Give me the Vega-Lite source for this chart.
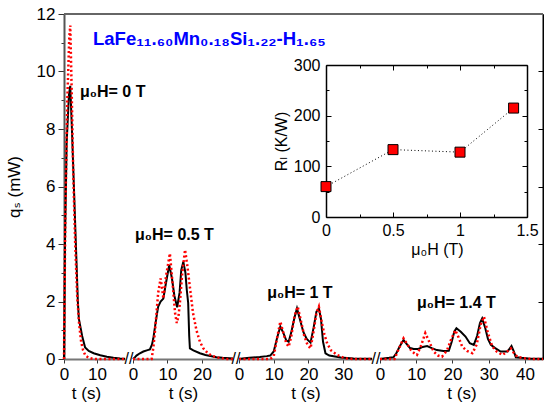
{
  "$schema": "https://vega.github.io/schema/vega-lite/v6.json",
  "width": 479,
  "height": 345,
  "autosize": {"type": "none"},
  "padding": {"left": 64, "top": 14, "right": 1, "bottom": 49},
  "config": {
    "view": {"stroke": null},
    "font": "Liberation Sans, DejaVu Sans",
    "axis": {"grid": false, "labelFont": "Liberation Sans, DejaVu Sans", "titleFont": "Liberation Sans, DejaVu Sans", "labelFontSize": 17, "titleFontSize": 17, "titleFontWeight": "normal", "labelColor": "#000", "titleColor": "#000", "labelFlush": false, "tickColor": "#333"}
  },
  "datasets": {
    "main": [
      {"panel":1,"series":"measured","t":0,"q":0},{"panel":1,"series":"measured","t":0.3,"q":4},{"panel":1,"series":"measured","t":0.8,"q":7.5},{"panel":1,"series":"measured","t":1.5,"q":9.2},{"panel":1,"series":"measured","t":1.9,"q":9.5},{"panel":1,"series":"measured","t":2.4,"q":8},{"panel":1,"series":"measured","t":3.0,"q":6},{"panel":1,"series":"measured","t":3.6,"q":4},{"panel":1,"series":"measured","t":4.2,"q":2},{"panel":1,"series":"measured","t":4.5,"q":1.4},{"panel":1,"series":"measured","t":5.5,"q":0.8},{"panel":1,"series":"measured","t":6.4,"q":0.4},{"panel":1,"series":"measured","t":7.5,"q":0.28},{"panel":1,"series":"measured","t":9,"q":0.2},{"panel":1,"series":"measured","t":11,"q":0.13},{"panel":1,"series":"measured","t":13,"q":0.08},{"panel":1,"series":"measured","t":15,"q":0.04},{"panel":1,"series":"measured","t":17,"q":0.02},{"panel":1,"series":"measured","t":18.5,"q":0.01},
      {"panel":1,"series":"model","t":0,"q":0},{"panel":1,"series":"model","t":0.4,"q":5},{"panel":1,"series":"model","t":1.0,"q":9},{"panel":1,"series":"model","t":1.6,"q":11.2},{"panel":1,"series":"model","t":1.9,"q":11.6},{"panel":1,"series":"model","t":2.3,"q":9.5},{"panel":1,"series":"model","t":2.8,"q":6.5},{"panel":1,"series":"model","t":3.4,"q":4},{"panel":1,"series":"model","t":4.0,"q":2.2},{"panel":1,"series":"model","t":4.6,"q":1.2},{"panel":1,"series":"model","t":5.2,"q":0.6},{"panel":1,"series":"model","t":5.8,"q":0.3},{"panel":1,"series":"model","t":6.5,"q":0.12},{"panel":1,"series":"model","t":7.5,"q":0.04},{"panel":1,"series":"model","t":9,"q":0},{"panel":1,"series":"model","t":18.5,"q":0},
      {"panel":2,"series":"measured","t":0,"q":0},{"panel":2,"series":"measured","t":0.5,"q":0.05},{"panel":2,"series":"measured","t":1,"q":0.12},{"panel":2,"series":"measured","t":2,"q":0.2},{"panel":2,"series":"measured","t":3,"q":0.26},{"panel":2,"series":"measured","t":4,"q":0.3},{"panel":2,"series":"measured","t":4.9,"q":0.33},{"panel":2,"series":"measured","t":5.5,"q":0.5},{"panel":2,"series":"measured","t":5.9,"q":0.72},{"panel":2,"series":"measured","t":6.6,"q":1.3},{"panel":2,"series":"measured","t":7.3,"q":1.82},{"panel":2,"series":"measured","t":8,"q":2.0},{"panel":2,"series":"measured","t":8.8,"q":2.1},{"panel":2,"series":"measured","t":9.5,"q":2.6},{"panel":2,"series":"measured","t":10.5,"q":3.27},{"panel":2,"series":"measured","t":11.3,"q":2.8},{"panel":2,"series":"measured","t":12,"q":2.2},{"panel":2,"series":"measured","t":12.8,"q":1.8},{"panel":2,"series":"measured","t":13.5,"q":2.3},{"panel":2,"series":"measured","t":14,"q":3.1},{"panel":2,"series":"measured","t":14.6,"q":3.38},{"panel":2,"series":"measured","t":15.2,"q":3.0},{"panel":2,"series":"measured","t":15.6,"q":2.4},{"panel":2,"series":"measured","t":16,"q":1.95},{"panel":2,"series":"measured","t":16.3,"q":0.8},{"panel":2,"series":"measured","t":16.5,"q":0.37},{"panel":2,"series":"measured","t":17.5,"q":0.3},{"panel":2,"series":"measured","t":19.4,"q":0.2},{"panel":2,"series":"measured","t":21,"q":0.14},{"panel":2,"series":"measured","t":24.2,"q":0.06},{"panel":2,"series":"measured","t":26,"q":0.04},{"panel":2,"series":"measured","t":29,"q":0.02},
      {"panel":2,"series":"model","t":0,"q":0},{"panel":2,"series":"model","t":5.4,"q":0},{"panel":2,"series":"model","t":5.9,"q":0.4},{"panel":2,"series":"model","t":6.4,"q":1.0},{"panel":2,"series":"model","t":7.3,"q":2.3},{"panel":2,"series":"model","t":8.0,"q":2.8},{"panel":2,"series":"model","t":8.5,"q":2.4},{"panel":2,"series":"model","t":8.8,"q":2.1},{"panel":2,"series":"model","t":9.6,"q":2.9},{"panel":2,"series":"model","t":10.7,"q":3.67},{"panel":2,"series":"model","t":11.5,"q":2.6},{"panel":2,"series":"model","t":12.2,"q":1.6},{"panel":2,"series":"model","t":12.7,"q":1.25},{"panel":2,"series":"model","t":13.2,"q":1.5},{"panel":2,"series":"model","t":13.6,"q":1.95},{"panel":2,"series":"model","t":14.3,"q":3.0},{"panel":2,"series":"model","t":15.1,"q":3.8},{"panel":2,"series":"model","t":15.8,"q":3.2},{"panel":2,"series":"model","t":16.5,"q":2.5},{"panel":2,"series":"model","t":17.4,"q":1.6},{"panel":2,"series":"model","t":18.4,"q":1.0},{"panel":2,"series":"model","t":19.4,"q":0.6},{"panel":2,"series":"model","t":20.4,"q":0.37},{"panel":2,"series":"model","t":21.7,"q":0.2},{"panel":2,"series":"model","t":23,"q":0.1},{"panel":2,"series":"model","t":25,"q":0.04},{"panel":2,"series":"model","t":27,"q":0},{"panel":2,"series":"model","t":29,"q":0},
      {"panel":3,"series":"measured","t":0,"q":0},{"panel":3,"series":"measured","t":1,"q":0.02},{"panel":3,"series":"measured","t":3,"q":0.04},{"panel":3,"series":"measured","t":6,"q":0.07},{"panel":3,"series":"measured","t":8,"q":0.1},{"panel":3,"series":"measured","t":9,"q":0.12},{"panel":3,"series":"measured","t":10,"q":0.26},{"panel":3,"series":"measured","t":11,"q":0.75},{"panel":3,"series":"measured","t":11.9,"q":1.13},{"panel":3,"series":"measured","t":12.8,"q":0.9},{"panel":3,"series":"measured","t":13.6,"q":0.65},{"panel":3,"series":"measured","t":14.3,"q":0.6},{"panel":3,"series":"measured","t":15,"q":0.9},{"panel":3,"series":"measured","t":16,"q":1.45},{"panel":3,"series":"measured","t":16.7,"q":1.76},{"panel":3,"series":"measured","t":17.5,"q":1.4},{"panel":3,"series":"measured","t":18.5,"q":0.95},{"panel":3,"series":"measured","t":19.5,"q":0.7},{"panel":3,"series":"measured","t":20.6,"q":0.57},{"panel":3,"series":"measured","t":21.5,"q":1.1},{"panel":3,"series":"measured","t":22.3,"q":1.65},{"panel":3,"series":"measured","t":23,"q":1.76},{"panel":3,"series":"measured","t":23.6,"q":1.4},{"panel":3,"series":"measured","t":24.2,"q":0.6},{"panel":3,"series":"measured","t":24.9,"q":0.2},{"panel":3,"series":"measured","t":26,"q":0.12},{"panel":3,"series":"measured","t":29.3,"q":0.05},{"panel":3,"series":"measured","t":33,"q":0.02},{"panel":3,"series":"measured","t":38.3,"q":0.01},
      {"panel":3,"series":"model","t":0,"q":0},{"panel":3,"series":"model","t":9,"q":0},{"panel":3,"series":"model","t":10,"q":0.1},{"panel":3,"series":"model","t":11,"q":0.75},{"panel":3,"series":"model","t":11.9,"q":1.3},{"panel":3,"series":"model","t":12.8,"q":0.9},{"panel":3,"series":"model","t":13.6,"q":0.55},{"panel":3,"series":"model","t":14.3,"q":0.43},{"panel":3,"series":"model","t":15,"q":0.75},{"panel":3,"series":"model","t":16,"q":1.5},{"panel":3,"series":"model","t":16.9,"q":1.82},{"panel":3,"series":"model","t":17.8,"q":1.35},{"panel":3,"series":"model","t":18.8,"q":0.8},{"panel":3,"series":"model","t":19.7,"q":0.5},{"panel":3,"series":"model","t":20.6,"q":0.37},{"panel":3,"series":"model","t":21.4,"q":0.9},{"panel":3,"series":"model","t":22.3,"q":1.6},{"panel":3,"series":"model","t":23,"q":1.82},{"panel":3,"series":"model","t":23.8,"q":1.3},{"panel":3,"series":"model","t":24.6,"q":0.85},{"panel":3,"series":"model","t":25.4,"q":0.54},{"panel":3,"series":"model","t":26.5,"q":0.3},{"panel":3,"series":"model","t":28.3,"q":0.14},{"panel":3,"series":"model","t":30,"q":0.05},{"panel":3,"series":"model","t":31,"q":0.02},{"panel":3,"series":"model","t":33,"q":0},{"panel":3,"series":"model","t":38.3,"q":0},
      {"panel":4,"series":"measured","t":0,"q":0},{"panel":4,"series":"measured","t":1,"q":0.02},{"panel":4,"series":"measured","t":2.5,"q":0.04},{"panel":4,"series":"measured","t":3.7,"q":0.06},{"panel":4,"series":"measured","t":4.5,"q":0.2},{"panel":4,"series":"measured","t":5.5,"q":0.45},{"panel":4,"series":"measured","t":6.5,"q":0.66},{"panel":4,"series":"measured","t":7.5,"q":0.5},{"panel":4,"series":"measured","t":8.3,"q":0.38},{"panel":4,"series":"measured","t":9.3,"q":0.35},{"panel":4,"series":"measured","t":10.6,"q":0.35},{"panel":4,"series":"measured","t":11.8,"q":0.42},{"panel":4,"series":"measured","t":13,"q":0.45},{"panel":4,"series":"measured","t":14.3,"q":0.38},{"panel":4,"series":"measured","t":15.7,"q":0.31},{"panel":4,"series":"measured","t":17.5,"q":0.28},{"panel":4,"series":"measured","t":19,"q":0.29},{"panel":4,"series":"measured","t":19.8,"q":0.6},{"panel":4,"series":"measured","t":20.5,"q":0.95},{"panel":4,"series":"measured","t":21.1,"q":1.07},{"panel":4,"series":"measured","t":22.3,"q":0.95},{"panel":4,"series":"measured","t":23.6,"q":0.78},{"panel":4,"series":"measured","t":24.8,"q":0.55},{"panel":4,"series":"measured","t":25.9,"q":0.49},{"panel":4,"series":"measured","t":26.8,"q":0.8},{"panel":4,"series":"measured","t":27.6,"q":1.25},{"panel":4,"series":"measured","t":28.2,"q":1.41},{"panel":4,"series":"measured","t":29,"q":1.1},{"panel":4,"series":"measured","t":29.8,"q":0.7},{"panel":4,"series":"measured","t":30.6,"q":0.49},{"panel":4,"series":"measured","t":31.8,"q":0.38},{"panel":4,"series":"measured","t":33.3,"q":0.26},{"panel":4,"series":"measured","t":35.2,"q":0.26},{"panel":4,"series":"measured","t":36.3,"q":0.45},{"panel":4,"series":"measured","t":37,"q":0.25},{"panel":4,"series":"measured","t":37.5,"q":0.06},{"panel":4,"series":"measured","t":39,"q":0.04},{"panel":4,"series":"measured","t":41,"q":0.02},{"panel":4,"series":"measured","t":45,"q":0.01},
      {"panel":4,"series":"model","t":0,"q":0},{"panel":4,"series":"model","t":4,"q":0},{"panel":4,"series":"model","t":5,"q":0.3},{"panel":4,"series":"model","t":6.5,"q":0.72},{"panel":4,"series":"model","t":7.6,"q":0.5},{"panel":4,"series":"model","t":8.8,"q":0.26},{"panel":4,"series":"model","t":10.2,"q":0.14},{"panel":4,"series":"model","t":11.3,"q":0.45},{"panel":4,"series":"model","t":12.5,"q":0.9},{"panel":4,"series":"model","t":13.6,"q":0.6},{"panel":4,"series":"model","t":14.8,"q":0.26},{"panel":4,"series":"model","t":16,"q":0.12},{"panel":4,"series":"model","t":17.1,"q":0.08},{"panel":4,"series":"model","t":18.5,"q":0.3},{"panel":4,"series":"model","t":19.7,"q":0.7},{"panel":4,"series":"model","t":20.8,"q":1.0},{"panel":4,"series":"model","t":21.7,"q":0.75},{"panel":4,"series":"model","t":22.7,"q":0.43},{"panel":4,"series":"model","t":24,"q":0.28},{"panel":4,"series":"model","t":25.5,"q":0.2},{"panel":4,"series":"model","t":26.7,"q":0.5},{"panel":4,"series":"model","t":27.8,"q":1.2},{"panel":4,"series":"model","t":28.7,"q":1.47},{"panel":4,"series":"model","t":29.7,"q":0.95},{"panel":4,"series":"model","t":31,"q":0.43},{"panel":4,"series":"model","t":32.3,"q":0.25},{"panel":4,"series":"model","t":33.8,"q":0.14},{"panel":4,"series":"model","t":35,"q":0.25},{"panel":4,"series":"model","t":36.1,"q":0.37},{"panel":4,"series":"model","t":37,"q":0.2},{"panel":4,"series":"model","t":37.9,"q":0.08},{"panel":4,"series":"model","t":39.5,"q":0.03},{"panel":4,"series":"model","t":42,"q":0},{"panel":4,"series":"model","t":45,"q":0}
    ],
    "labels": [
      {"panel":1,"t":4.85,"q":9.1,"text":"μ₀H= 0 T"},
      {"panel":2,"t":0.6,"q":4.14,"text":"μ₀H= 0.5 T"},
      {"panel":3,"t":8.1,"q":2.12,"text":"μ₀H= 1 T"},
      {"panel":4,"t":10.2,"q":1.77,"text":"μ₀H= 1.4 T"}
    ],
    "title": [{"t":8.8,"q":10.92,"text":"LaFe₁₁.₆₀Mn₀.₁₈Si₁.₂₂-H₁.₆₅"}],
    "breaks": [
      {"panel":1,"t":18.5,"q":0},{"panel":2,"t":29,"q":0},{"panel":3,"t":38.3,"q":0}
    ],
    "frame": [{"q":12}],
    "inset": [
      {"H":0,"R":60},{"H":0.5,"R":133},{"H":1,"R":128},{"H":1.4,"R":215}
    ]
  },
  "layer": [
    {"data":{"name":"frame"},"mark":{"type":"rule","color":"#666","strokeWidth":2},
     "encoding":{"y":{"field":"q","type":"quantitative","scale":{"domain":[0,12],"nice":false},"axis":null}}},

    {"data":{"name":"main"},"transform":[{"filter":"datum.panel==1 && datum.series=='measured'"}],
     "mark":{"type":"line","color":"#000","strokeWidth":2},
     "encoding":{
       "x":{"field":"t","type":"quantitative","scale":{"domain":[0,18.5],"range":[0,61],"nice":false,"zero":false},
            "axis":{"orient":"bottom","values":[0,10],"title":"t (s)","domainColor":"#777","domainWidth":2,"tickSize":4,"labelPadding":3,"titlePadding":3,"titleX":22}},
       "y":{"field":"q","type":"quantitative","scale":{"domain":[0,12],"nice":false},
            "axis":{"orient":"left","values":[0,1,2,3,4,5,6,7,8,9,10,11,12],"labelExpr":"datum.value % 2 == 0 ? datum.label : ''","tickSize":{"expr":"datum.value % 2 == 0 ? 6 : 3"},"domainColor":"#555","domainWidth":2,"title":"qₛ (mW)","titlePadding":13,"labelPadding":3}}}},
    {"data":{"name":"main"},"transform":[{"filter":"datum.panel==1 && datum.series=='model'"}],
     "mark":{"type":"line","color":"#ff0000","strokeWidth":2.5,"strokeDash":[2,2.5]},
     "encoding":{
       "x":{"field":"t","type":"quantitative","scale":{"domain":[0,18.5],"range":[0,61],"nice":false,"zero":false},"axis":null},
       "y":{"field":"q","type":"quantitative","scale":{"domain":[0,12],"nice":false},"axis":null}}},

    {"data":{"name":"main"},"transform":[{"filter":"datum.panel==2 && datum.series=='measured'"}],
     "mark":{"type":"line","color":"#000","strokeWidth":2},
     "encoding":{
       "x":{"field":"t","type":"quantitative","scale":{"domain":[0,29],"range":[69,169],"nice":false,"zero":false},
            "axis":{"orient":"bottom","values":[0,10,20],"title":"t (s)","domainColor":"#777","domainWidth":2,"tickSize":4,"labelPadding":3,"titlePadding":3}},
       "y":{"field":"q","type":"quantitative","scale":{"domain":[0,12],"nice":false},"axis":null}}},
    {"data":{"name":"main"},"transform":[{"filter":"datum.panel==2 && datum.series=='model'"}],
     "mark":{"type":"line","color":"#ff0000","strokeWidth":2.5,"strokeDash":[2,2.5]},
     "encoding":{
       "x":{"field":"t","type":"quantitative","scale":{"domain":[0,29],"range":[69,169],"nice":false,"zero":false},"axis":null},
       "y":{"field":"q","type":"quantitative","scale":{"domain":[0,12],"nice":false},"axis":null}}},

    {"data":{"name":"main"},"transform":[{"filter":"datum.panel==3 && datum.series=='measured'"}],
     "mark":{"type":"line","color":"#000","strokeWidth":2},
     "encoding":{
       "x":{"field":"t","type":"quantitative","scale":{"domain":[0,38.3],"range":[175,308],"nice":false,"zero":false},
            "axis":{"orient":"bottom","values":[0,10,20,30],"title":"t (s)","domainColor":"#777","domainWidth":2,"tickSize":4,"labelPadding":3,"titlePadding":3}},
       "y":{"field":"q","type":"quantitative","scale":{"domain":[0,12],"nice":false},"axis":null}}},
    {"data":{"name":"main"},"transform":[{"filter":"datum.panel==3 && datum.series=='model'"}],
     "mark":{"type":"line","color":"#ff0000","strokeWidth":2.5,"strokeDash":[2,2.5]},
     "encoding":{
       "x":{"field":"t","type":"quantitative","scale":{"domain":[0,38.3],"range":[175,308],"nice":false,"zero":false},"axis":null},
       "y":{"field":"q","type":"quantitative","scale":{"domain":[0,12],"nice":false},"axis":null}}},

    {"data":{"name":"main"},"transform":[{"filter":"datum.panel==4 && datum.series=='measured'"}],
     "mark":{"type":"line","color":"#000","strokeWidth":2},
     "encoding":{
       "x":{"field":"t","type":"quantitative","scale":{"domain":[0,45],"range":[316,479],"nice":false,"zero":false},
            "axis":{"orient":"bottom","values":[0,10,20,30,40],"title":"t (s)","domainColor":"#777","domainWidth":2,"tickSize":4,"labelPadding":3,"titlePadding":3}},
       "y":{"field":"q","type":"quantitative","scale":{"domain":[0,12],"nice":false},
            "axis":{"orient":"right","values":[0,2,4,6,8,10,12],"labels":false,"title":null,"tickSize":-5,"tickColor":"#000","domainColor":"#000","domainWidth":2}}}},
    {"data":{"name":"main"},"transform":[{"filter":"datum.panel==4 && datum.series=='model'"}],
     "mark":{"type":"line","color":"#ff0000","strokeWidth":2.5,"strokeDash":[2,2.5]},
     "encoding":{
       "x":{"field":"t","type":"quantitative","scale":{"domain":[0,45],"range":[316,479],"nice":false,"zero":false},"axis":null},
       "y":{"field":"q","type":"quantitative","scale":{"domain":[0,12],"nice":false},"axis":null}}},

    {"data":{"name":"breaks"},"transform":[{"filter":"datum.panel==1"}],
     "mark":{"type":"text","text":"//","fontSize":16,"dx":4,"align":"center","baseline":"middle","color":"#000"},
     "encoding":{
       "x":{"field":"t","type":"quantitative","scale":{"domain":[0,18.5],"range":[0,61],"nice":false,"zero":false},"axis":null},
       "y":{"field":"q","type":"quantitative","scale":{"domain":[0,12],"nice":false},"axis":null}}},
    {"data":{"name":"breaks"},"transform":[{"filter":"datum.panel==2"}],
     "mark":{"type":"text","text":"//","fontSize":16,"dx":3,"align":"center","baseline":"middle","color":"#000"},
     "encoding":{
       "x":{"field":"t","type":"quantitative","scale":{"domain":[0,29],"range":[69,169],"nice":false,"zero":false},"axis":null},
       "y":{"field":"q","type":"quantitative","scale":{"domain":[0,12],"nice":false},"axis":null}}},
    {"data":{"name":"breaks"},"transform":[{"filter":"datum.panel==3"}],
     "mark":{"type":"text","text":"//","fontSize":16,"dx":4,"align":"center","baseline":"middle","color":"#000"},
     "encoding":{
       "x":{"field":"t","type":"quantitative","scale":{"domain":[0,38.3],"range":[175,308],"nice":false,"zero":false},"axis":null},
       "y":{"field":"q","type":"quantitative","scale":{"domain":[0,12],"nice":false},"axis":null}}},

    {"data":{"name":"labels"},"transform":[{"filter":"datum.panel==1"}],
     "mark":{"type":"text","fontSize":16,"fontWeight":"bold","align":"left","baseline":"alphabetic","color":"#000"},
     "encoding":{"text":{"field":"text"},
       "x":{"field":"t","type":"quantitative","scale":{"domain":[0,18.5],"range":[0,61],"nice":false,"zero":false},"axis":null},
       "y":{"field":"q","type":"quantitative","scale":{"domain":[0,12],"nice":false},"axis":null}}},
    {"data":{"name":"labels"},"transform":[{"filter":"datum.panel==2"}],
     "mark":{"type":"text","fontSize":16,"fontWeight":"bold","align":"left","baseline":"alphabetic","color":"#000"},
     "encoding":{"text":{"field":"text"},
       "x":{"field":"t","type":"quantitative","scale":{"domain":[0,29],"range":[69,169],"nice":false,"zero":false},"axis":null},
       "y":{"field":"q","type":"quantitative","scale":{"domain":[0,12],"nice":false},"axis":null}}},
    {"data":{"name":"labels"},"transform":[{"filter":"datum.panel==3"}],
     "mark":{"type":"text","fontSize":16,"fontWeight":"bold","align":"left","baseline":"alphabetic","color":"#000"},
     "encoding":{"text":{"field":"text"},
       "x":{"field":"t","type":"quantitative","scale":{"domain":[0,38.3],"range":[175,308],"nice":false,"zero":false},"axis":null},
       "y":{"field":"q","type":"quantitative","scale":{"domain":[0,12],"nice":false},"axis":null}}},
    {"data":{"name":"labels"},"transform":[{"filter":"datum.panel==4"}],
     "mark":{"type":"text","fontSize":16,"fontWeight":"bold","align":"left","baseline":"alphabetic","color":"#000"},
     "encoding":{"text":{"field":"text"},
       "x":{"field":"t","type":"quantitative","scale":{"domain":[0,45],"range":[316,479],"nice":false,"zero":false},"axis":null},
       "y":{"field":"q","type":"quantitative","scale":{"domain":[0,12],"nice":false},"axis":null}}},

    {"data":{"name":"title"},
     "mark":{"type":"text","fontSize":18.5,"fontWeight":"bold","align":"left","baseline":"alphabetic","color":"#0000ff"},
     "encoding":{"text":{"field":"text"},
       "x":{"field":"t","type":"quantitative","scale":{"domain":[0,18.5],"range":[0,61],"nice":false,"zero":false},"axis":null},
       "y":{"field":"q","type":"quantitative","scale":{"domain":[0,12],"nice":false},"axis":null}}},

    {"data":{"name":"inset"},
     "mark":{"type":"line","color":"#000","strokeWidth":1,"strokeDash":[1,2.5]},
     "encoding":{
       "x":{"field":"H","type":"quantitative","scale":{"domain":[0,1.5],"range":[262,463],"nice":false,"zero":false},
            "axis":{"orient":"bottom","offset":-142,"values":[0,0.25,0.5,0.75,1,1.25,1.5],"format":"~g","labelExpr":"datum.value % 0.5 == 0 ? datum.label : ''","tickSize":{"expr":"datum.value % 0.5 == 0 ? -5 : -3"},"tickColor":"#000","domainColor":"#000","domainWidth":1.5,"labelPadding":10,"labelFontSize":16,"titleFontSize":16,"title":"μ₀H (T)","titlePadding":3,"titleX":373}},
       "y":{"field":"R","type":"quantitative","scale":{"domain":[0,300],"range":[203,51],"nice":false,"zero":false},
            "axis":{"orient":"left","offset":-262,"values":[0,50,100,150,200,250,300],"labelExpr":"datum.value % 100 == 0 ? datum.label : ''","tickSize":{"expr":"datum.value % 100 == 0 ? -5 : -3"},"tickColor":"#000","domainColor":"#000","domainWidth":1.5,"labelPadding":11,"labelFontSize":16,"titleFontSize":16,"title":"Rₗ (K/W)","titlePadding":4}}}},
    {"data":{"name":"inset"},
     "mark":{"type":"square","size":100,"fill":"#ff0000","stroke":"#000","strokeWidth":1,"opacity":1},
     "encoding":{
       "x":{"field":"H","type":"quantitative","scale":{"domain":[0,1.5],"range":[262,463],"nice":false,"zero":false},
            "axis":{"orient":"top","offset":-51,"values":[0,0.25,0.5,0.75,1,1.25,1.5],"labels":false,"title":null,"tickSize":{"expr":"datum.value % 0.5 == 0 ? -5 : -3"},"tickColor":"#000","domainColor":"#000","domainWidth":1.5}},
       "y":{"field":"R","type":"quantitative","scale":{"domain":[0,300],"range":[203,51],"nice":false,"zero":false},
            "axis":{"orient":"right","offset":-16,"values":[0,50,100,150,200,250,300],"labels":false,"title":null,"tickSize":{"expr":"datum.value % 100 == 0 ? -5 : -3"},"tickColor":"#000","domainColor":"#000","domainWidth":1.5}}}}
  ],
  "resolve": {"scale": {"x": "independent", "y": "independent"}, "axis": {"x": "independent", "y": "independent"}}
}
